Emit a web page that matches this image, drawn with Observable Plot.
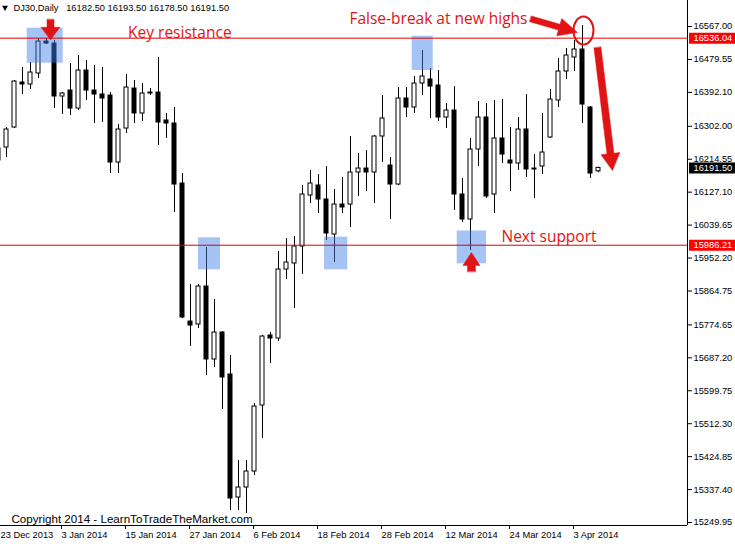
<!DOCTYPE html>
<html><head><meta charset="utf-8">
<script src="https://cdn.jsdelivr.net/npm/d3@7"></script>
<script src="https://cdn.jsdelivr.net/npm/@observablehq/plot@0.6"></script>
<style>
html,body{margin:0;padding:0;background:#fff;}
#chart svg{display:block;}
</style></head><body><div id="chart"></div>
<script>
// ---- data: DJ30 daily candles, bar index (0 = first full bar on the left) ----
const bars = d3.range(-1, 75);
const open = [16243.1,16245.7,16298.8,16418.3,16413.0,16442.2,16527.1,16521.8,16381.1,16397.0,
16349.2,16450.1,16397.0,16386.4,16383.7,16205.8,16296.1,16402.3,16336.0,16391.7,
16391.7,16317.4,16309.4,16150.1,15783.6,15775.7,15876.6,15682.8,15754.4,15642.9,
15316.3,15342.9,15385.4,15560.6,15746.5,15738.5,15921.7,15937.7,15982.8,16118.2,
16144.8,16107.6,16014.7,16094.3,16094.3,16179.3,16189.9,16179.3,16274.9,16197.9,
16147.4,16375.8,16351.9,16415.6,16426.2,16410.3,16325.3,16343.9,16120.9,16054.5,
16240.4,16325.3,16120.9,16269.6,16211.2,16203.2,16293.5,16187.3,16195.2,16272.2,
16370.5,16447.5,16484.7,16505.9,16351.9,16182.5];
const high = [16245.7,16298.8,16423.6,16458.1,16471.4,16535.1,16535.1,16529.8,16391.7,16468.7,
16490.0,16476.7,16463.4,16458.1,16391.7,16306.7,16439.5,16423.6,16415.6,16402.3,
16484.7,16336.0,16351.9,16176.6,15881.9,15881.9,15980.1,15842.1,15757.1,15693.4,
15414.6,15414.6,15565.9,15746.5,15754.4,15969.5,16004.0,16009.4,16144.8,16184.6,
16174.0,16195.2,16134.2,16166.0,16274.9,16229.7,16237.7,16277.5,16383.7,16219.1,
16405.0,16405.0,16434.2,16503.2,16455.4,16450.1,16362.5,16407.6,16163.4,16269.6,
16367.8,16362.5,16370.5,16373.1,16298.8,16325.3,16386.4,16227.1,16336.0,16399.7,
16482.0,16508.6,16529.8,16569.7,16354.5,16193.5];
const low = [16203.2,16219.1,16296.1,16386.4,16399.7,16428.9,16519.2,16349.2,16333.3,16330.6,
16343.9,16370.5,16309.4,16312.1,16176.6,16176.6,16282.9,16309.4,16314.7,16383.7,
16251.0,16269.6,16073.1,15791.6,15717.3,15765.1,15640.3,15661.5,15550.0,15281.8,
15281.8,15273.8,15374.7,15473.0,15672.1,15730.5,15895.2,15818.2,15908.5,16097.0,
16070.4,15998.7,15940.3,16070.4,16033.2,16115.6,16128.8,16097.0,16205.8,16054.5,
16144.8,16325.3,16336.0,16383.7,16322.7,16314.7,16296.1,16078.4,16046.5,15972.2,
16195.2,16110.3,16070.4,16203.2,16128.8,16184.6,16166.0,16110.3,16174.0,16269.6,
16351.9,16426.2,16447.5,16309.4,16163.4,16178.5];
const close = [16211.2,16293.5,16420.9,16413.0,16444.8,16527.1,16521.8,16381.1,16389.1,16349.2,
16450.1,16397.0,16386.4,16375.8,16205.8,16293.5,16405.0,16336.0,16389.1,16389.1,
16312.1,16309.4,16147.4,15794.3,15773.0,15876.6,15682.8,15754.4,15635.0,15313.7,
15342.9,15385.4,15558.0,15743.8,15738.5,15921.7,15940.3,15982.8,16120.9,16150.1,
16107.6,16017.3,16094.3,16086.4,16179.3,16189.9,16179.3,16274.9,16322.7,16147.4,
16375.8,16351.9,16415.6,16434.2,16407.6,16325.3,16343.9,16120.9,16054.5,16240.4,
16325.3,16115.6,16269.6,16227.1,16203.2,16293.5,16187.3,16189.9,16232.4,16373.1,
16447.5,16490.0,16505.9,16359.8,16176.6,16191.5];

const dateTickBars = [-1, 7, 15, 23, 31, 39, 47, 55, 63, 71];
const dateTickLabels = ["23 Dec 2013","3 Jan 2014","15 Jan 2014","27 Jan 2014","6 Feb 2014",
  "18 Feb 2014","28 Feb 2014","12 Mar 2014","24 Mar 2014","3 Apr 2014"];
const priceTicks = [16567.00,16479.55,16392.10,16302.00,16214.55,16127.10,16039.65,15952.20,
  15864.75,15774.65,15687.20,15599.75,15512.30,15424.85,15337.40,15249.95];

const levelPrices = [16536.04, 15986.21];
const levelLabels = ["16536.04", "15986.21"];

// highlight boxes [bar from, bar to, price top, price bottom]
const boxBar1 = [2.59, 50.71, 24.0, 39.75, 56.34];
const boxBar2 = [7.09, 53.34, 26.75, 42.66, 60.0];
const boxTop = [16562.5, 16541.2, 16005.9, 16007.5, 16024.0];
const boxBottom = [16469.6, 16450.2, 15920.9, 15920.9, 15936.9];

// annotation texts
const noteText = ["Key resistance", "False-break at new highs", "Next support"];
const noteBar = [15.2, 42.87, 61.87];
const notePrice = [16548.4, 16585.6, 16007.5];

// arrows: start (bar, price) -> tip (bar, price)
const arrowFromBar = [5.5, 58.12, 65.5, 73.87];
const arrowFromPrice = [16585.6, 15916.4, 16587.4, 16511.2];
const arrowToBar = [5.5, 58.12, 71.37, 75.75];
const arrowToPrice = [16531.7, 15966.9, 16551.1, 16184.6];
const arrowShaft = [7, 8, 6, 7];
const arrowHead = [12.5, 13, 19, 17];
const arrowHeadWidth = [19, 17, 18, 19];

// circle around the false break
const ringBar = [72.12];
const ringPrice = [16556.4];

// ---- build ----
const RED = "#e01414";
const candles = bars.map((b, k) => ({i: b, o: open[k], h: high[k], l: low[k], c: close[k]}));
const up = candles.filter(d => d.c > d.o);
const down = candles.filter(d => d.c <= d.o);

const xDomain = [-0.75, 85.125], yDomain = [15242.01, 16636.04];
const W = 735, H = 544, mR = 48, mB = 19;
const X = d3.scaleLinear(xDomain, [0, W - mR]);
const Y = d3.scaleLinear(yDomain, [H - mB, 0]);

const arrowPts = [];
arrowFromBar.forEach((_, k) => {
  const x1 = X(arrowFromBar[k]), y1 = Y(arrowFromPrice[k]);
  const x2 = X(arrowToBar[k]), y2 = Y(arrowToPrice[k]);
  const L = Math.hypot(x2 - x1, y2 - y1), ux = (x2 - x1) / L, uy = (y2 - y1) / L;
  const nx = -uy, ny = ux;
  const bx = x2 - ux * arrowHead[k], by = y2 - uy * arrowHead[k];
  const s = arrowShaft[k] / 2, w = arrowHeadWidth[k] / 2;
  [[x1 + nx*s, y1 + ny*s], [bx + nx*s, by + ny*s], [bx + nx*w, by + ny*w], [x2, y2],
   [bx - nx*w, by - ny*w], [bx - nx*s, by - ny*s], [x1 - nx*s, y1 - ny*s]]
    .forEach(([px, py]) => arrowPts.push({id: k, x: X.invert(px), y: Y.invert(py)}));
});

const boxes = boxBar1.map((b, k) => ({x1: b, x2: boxBar2[k], y1: boxTop[k], y2: boxBottom[k]}));
const notes = noteText.map((t, k) => ({t, x: noteBar[k], y: notePrice[k]}));
const levels = levelPrices.map((p, k) => ({p, label: levelLabels[k]}));
const last = candles[candles.length - 1];
const header = "DJ30,Daily\u00a0\u00a0\u00a0" + [last.o, last.h, last.l, last.c].map(v => v.toFixed(2)).join(" ");

const ellipse = {draw(ctx) {
  const rx = 10, ry = 14, k = 0.5523;
  ctx.moveTo(rx, 0);
  ctx.bezierCurveTo(rx, ry*k, rx*k, ry, 0, ry);
  ctx.bezierCurveTo(-rx*k, ry, -rx, ry*k, -rx, 0);
  ctx.bezierCurveTo(-rx, -ry*k, -rx*k, -ry, 0, -ry);
  ctx.bezierCurveTo(rx*k, -ry, rx, -ry*k, rx, 0);
  ctx.closePath();
}};

const chart = Plot.plot({
  width: W, height: H,
  marginTop: 0, marginLeft: 0, marginRight: mR, marginBottom: mB,
  style: {fontFamily: "'Liberation Sans', Arial, sans-serif", fontSize: "9.3px", background: "#fff", color: "#000"},
  x: {type: "linear", domain: xDomain, axis: null},
  y: {type: "linear", domain: yDomain, axis: null},
  marks: [
    // wicks and bodies
    Plot.ruleX(candles, {x: "i", y1: "l", y2: "h", stroke: "#000", strokeWidth: 1}),
    Plot.rect(up, {x1: d => d.i - 0.25, x2: d => d.i + 0.25, y1: "o", y2: "c", fill: "#fff", stroke: "#000", strokeWidth: 1}),
    Plot.rect(down, {x1: d => d.i - 0.25, x2: d => d.i + 0.25, y1: "o", y2: "c", fill: "#000", stroke: "#000", strokeWidth: 1}),
    // highlight boxes
    Plot.rect(boxes, {x1: "x1", x2: "x2", y1: "y1", y2: "y2", fill: "#3f7fe8", fillOpacity: 0.47}),
    // horizontal levels
    Plot.ruleY(levelPrices, {stroke: "#e00000", strokeWidth: 1}),
    // axes lines
    Plot.ruleX([xDomain[1]], {stroke: "#000"}),
    Plot.ruleY([yDomain[0]], {stroke: "#000"}),
    Plot.axisY(priceTicks, {anchor: "right", tickSize: 4, tickPadding: 2, tickFormat: d => d.toFixed(2), fontSize: 9.3}),
    Plot.axisX(dateTickBars, {anchor: "bottom", tickSize: 4, tickPadding: 2, textAnchor: "start", dx: -1,
      tickFormat: d => d === dateTickBars[0] ? "" : dateTickLabels[dateTickBars.indexOf(d)], fontSize: 9.3}),
    // first date label, kept inside the left edge
    Plot.text([dateTickLabels[0]], {x: xDomain[0], frameAnchor: "bottom", dy: 6, lineAnchor: "top", textAnchor: "start", fill: "#000", fontSize: 9.3}),
    // price tags on the axis
    Plot.ruleY(levels, {y: "p", x1: 85.375, x2: 92, stroke: "#ff0000", strokeWidth: 11}),
    Plot.text(levels, {y: "p", x: 85.875, text: "label", textAnchor: "start", fill: "#fff", fontSize: 9.3}),
    Plot.ruleY([last], {y: "c", x1: 85.375, x2: 92, stroke: "#000", strokeWidth: 11}),
    Plot.text([last], {y: "c", x: 85.875, text: d => d.c.toFixed(2), textAnchor: "start", fill: "#fff", fontSize: 9.3}),
    // arrows and ring
    Plot.line(arrowPts, {x: "x", y: "y", z: "id", fill: RED, stroke: RED, strokeWidth: 0.5, curve: "linear-closed"}),
    Plot.dot(ringBar.map((b, k) => ({x: b, y: ringPrice[k]})), {x: "x", y: "y", symbol: ellipse, r: 10, stroke: RED, strokeWidth: 2, fill: "none"}),
    // annotation text
    Plot.text(notes, {x: "x", y: "y", text: "t", textAnchor: "start", fill: RED, fontFamily: "'Open Sans', sans-serif", fontSize: 15.5}),
    // header & copyright
    Plot.dot([0], {frameAnchor: "top-left", dx: 4.5, dy: 7, symbol: "triangle", rotate: 180, r: 2.2, fill: "#000", stroke: null}),
    Plot.text([header], {frameAnchor: "top-left", dx: 13, dy: 10.3, lineAnchor: "bottom", textAnchor: "start", fill: "#000", fontSize: 9.3}),
    Plot.text(["Copyright 2014 - LearnToTradeTheMarket.com"], {frameAnchor: "bottom-left", dx: 11, dy: -2.3, lineAnchor: "bottom", textAnchor: "start", fill: "#000", fontSize: 11.6})
  ]
});
document.getElementById("chart").appendChild(chart);
</script>
</body></html>
